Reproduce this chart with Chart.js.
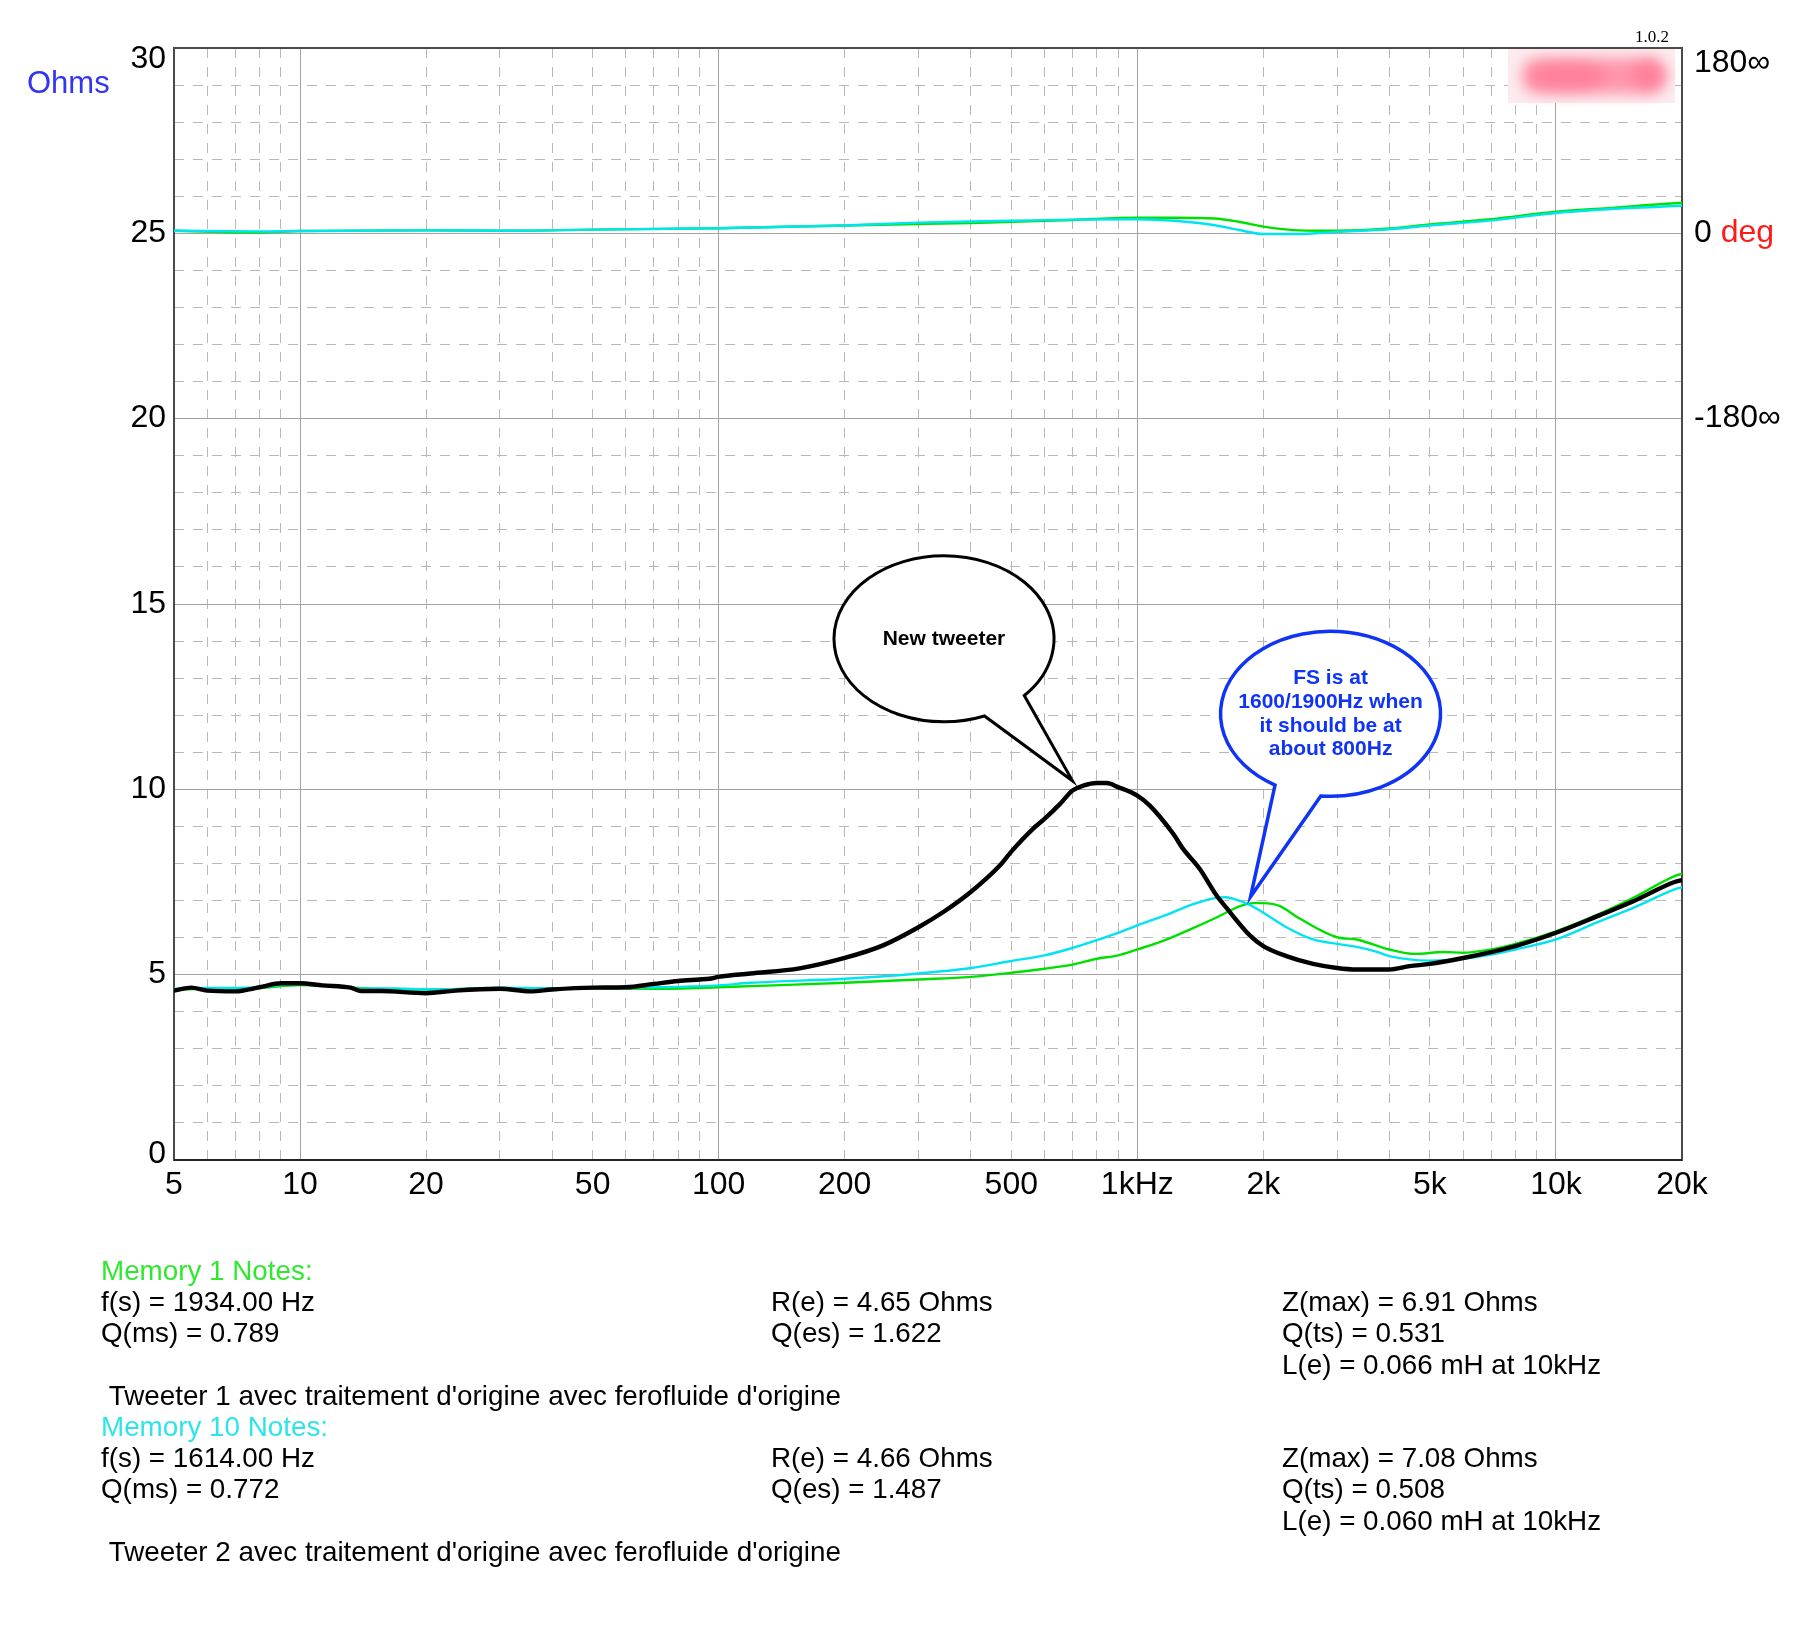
<!DOCTYPE html>
<html>
<head>
<meta charset="utf-8">
<script src="https://cdn.jsdelivr.net/npm/chart.js@4.4.0/dist/chart.umd.min.js"></script>
<style>
  body { margin: 0; background: #fff; }
  canvas { display: block; }
</style>
</head>
<body>
<canvas id="impedanceChart" width="1800" height="1645"></canvas>
<script>
// axis ticks
const xTickValues = [5, 10, 20, 50, 100, 200, 500, 1000, 2000, 5000, 10000, 20000];
const xTickLabels = ["5", "10", "20", "50", "100", "200", "500", "1kHz", "2k", "5k", "10k", "20k"];
const phaseTickValues = [180, 0, -180];
const phaseTickLabels = ["180∞", "0", "-180∞"];

// new tweeter, impedance (Ohms)
const newTweeterHz = [5, 5.5, 6, 7, 8, 9, 10, 11.3, 13.2, 14, 15.6, 20, 23.5, 30, 35.5, 40, 50, 60, 70, 80, 90, 95,
  100, 119, 156, 200, 247, 300, 344, 400, 470, 500, 564, 600, 653, 700, 743, 800, 844, 900, 1000, 1071, 1218, 1285,
  1410, 1545, 1633, 1857, 2000, 2270, 2630, 3000, 3340, 4000, 4470, 5000, 6000, 7000, 8000, 10000, 12700, 15300, 19200, 20000];
const newTweeterOhms = [4.57, 4.65, 4.57, 4.55, 4.66, 4.77, 4.77, 4.71, 4.65, 4.56, 4.56, 4.50, 4.57, 4.62, 4.55, 4.60, 4.65, 4.66, 4.75, 4.83, 4.87, 4.89,
  4.94, 5.03, 5.17, 5.45, 5.79, 6.28, 6.69, 7.23, 7.95, 8.32, 8.94, 9.20, 9.60, 9.97, 10.10, 10.17, 10.17, 10.06, 9.83, 9.56, 8.80, 8.40,
  7.85, 7.14, 6.80, 6.06, 5.77, 5.50, 5.29, 5.18, 5.14, 5.14, 5.23, 5.29, 5.45, 5.61, 5.77, 6.13, 6.60, 6.98, 7.50, 7.55];

// memory 1 (green), impedance
const mem1Hz = [5, 6, 8, 10, 12, 15, 20, 30, 50, 70, 100, 119, 200, 300, 400, 500, 600, 700, 800, 900, 1000, 1165, 1350,
  1550, 1760, 1890, 2000, 2190, 2430, 3000, 3340, 4000, 4600, 5400, 6000, 7000, 8000, 10000, 12700, 15300, 19200, 20000];
const mem1Ohms = [4.60, 4.62, 4.64, 4.72, 4.68, 4.62, 4.60, 4.63, 4.63, 4.62, 4.66, 4.69, 4.78, 4.87, 4.94, 5.05, 5.16, 5.27, 5.43, 5.52, 5.68, 5.93, 6.24,
  6.55, 6.85, 6.93, 6.93, 6.85, 6.53, 6.01, 5.95, 5.68, 5.56, 5.61, 5.59, 5.68, 5.83, 6.17, 6.64, 7.07, 7.66, 7.72];

// memory 10 (cyan), impedance
const mem10Hz = [5, 6, 7, 8, 9, 10, 12, 14, 17, 20, 25, 30, 40, 50, 60, 70, 80, 100, 119, 200, 300, 400, 500, 600, 700,
  800, 900, 1000, 1165, 1350, 1545, 1620, 1690, 1850, 2000, 2270, 2630, 3000, 3340, 3700, 4000, 5000, 6000, 7000, 8000,
  10000, 12700, 15300, 19200, 20000];
const mem10Ohms = [4.62, 4.64, 4.64, 4.66, 4.72, 4.75, 4.70, 4.62, 4.63, 4.60, 4.62, 4.65, 4.63, 4.64, 4.65, 4.66, 4.67, 4.71, 4.78, 4.89, 5.03, 5.18, 5.37, 5.52, 5.72,
  5.93, 6.13, 6.33, 6.60, 6.89, 7.07, 7.09, 7.05, 6.89, 6.67, 6.28, 5.95, 5.83, 5.75, 5.63, 5.50, 5.38, 5.43, 5.54, 5.68,
  5.95, 6.44, 6.80, 7.30, 7.36];

// phase (deg) of memory 1 and memory 10
const phaseHz = [5, 8, 10, 20, 30, 50, 100, 200, 300, 400, 500, 700, 1000, 1230, 1530, 1750, 2000, 2420, 3000, 4000, 5000, 7000, 10000, 13300, 19200, 20000];
const mem1PhaseDeg = [2.5, 0.7, 2.2, 2.9, 2.5, 3.6, 5.0, 7.6, 9.0, 10.1, 11.2, 13.0, 15.1, 15.1, 14.4, 11.2, 6.5, 2.9, 2.5, 4.7, 8.6, 13.7, 20.9, 24.5, 29.2, 29.5];
const mem10PhaseDeg = [2.5, 1.8, 2.2, 2.9, 2.5, 3.6, 5.0, 7.6, 10.4, 11.5, 12.2, 13.3, 13.7, 12.2, 7.9, 3.2, -0.7, -0.7, 1.4, 4.0, 7.6, 12.6, 19.8, 23.4, 26.6, 27.0];

// notes under the graph
const mem1Notes = ["f(s) = 1934.00 Hz", "R(e) = 4.65 Ohms", "Z(max) = 6.91 Ohms", "Q(ms) = 0.789", "Q(es) = 1.622", "Q(ts) = 0.531", "L(e) = 0.066 mH at 10kHz"];
const mem10Notes = ["f(s) = 1614.00 Hz", "R(e) = 4.66 Ohms", "Z(max) = 7.08 Ohms", "Q(ms) = 0.772", "Q(es) = 1.487", "Q(ts) = 0.508", "L(e) = 0.060 mH at 10kHz"];
const mem1Desc = " Tweeter 1 avec traitement d'origine avec ferofluide d'origine";
const mem10Desc = " Tweeter 2 avec traitement d'origine avec ferofluide d'origine";

const FONT = "'Liberation Sans', Arial, Helvetica, sans-serif";
const GREEN = "#00e000";
const CYAN = "#00e4f0";
const BLUE = "#1034f5";

function toPoints(xs, ys) {
    return xs.map((x, i) => ({ x: x, y: ys[i] }));
}

// 1..9 per decade grid, 5 Hz .. 20 kHz
const gridHz = [];
[1, 10, 100, 1000, 10000].forEach(function (d) {
    for (let m = 1; m <= 9; m++) {
        const v = m * d;
        if (v >= 5 && v <= 20000) gridHz.push(v);
    }
});
const decadeHz = [10, 100, 1000, 10000];

const MINOR = "#b8b8b8";
const MAJOR = "#a2a2a2";
const DASH = [10, 9];

// end labels sit a little inside the frame (two-line label, blank half)
function edgeLabel(text, pos) {
    return pos === "low" ? ["", text] : [text, ""];
}
function tickFont(lh) {
    return { size: 32, lineHeight: lh };
}

function drawBubble(c, b) {
    const xs = c.scales.x, ys = c.scales.y;
    const tx = xs.getPixelForValue(b.tipHz), ty = ys.getPixelForValue(b.tipOhms);
    const cx = tx + b.dx, cy = ty + b.dy;
    const a1 = b.a1 * Math.PI / 180, a2 = b.a2 * Math.PI / 180;
    const g = c.ctx;
    g.save();
    g.beginPath();
    g.ellipse(cx, cy, b.rx, b.ry, 0, a1, a2, false);
    g.lineTo(tx, ty);
    g.closePath();
    g.fillStyle = "#fff";
    g.fill();
    g.lineWidth = b.width;
    g.lineJoin = "miter";
    g.strokeStyle = b.color;
    g.stroke();
    g.fillStyle = b.color;
    g.font = "bold 21px " + FONT;
    g.textAlign = "center";
    g.textBaseline = "middle";
    const lh = 23.8;
    const y0 = cy - (b.lines.length - 1) * lh / 2;
    b.lines.forEach((t, i) => g.fillText(t, cx, y0 + i * lh));
    g.restore();
}

const decorations = {
    id: "decorations",
    beforeDatasetsDraw(c) {
        const g = c.ctx, a = c.chartArea;
        g.save();
        // blurred logo box
        g.fillStyle = "#fcecef";
        g.fillRect(1508, 49, 167, 54);
        g.filter = "blur(7px)";
        g.fillStyle = "rgba(255,135,160,0.85)";
        g.beginPath();
        g.roundRect(1522, 58, 144, 36, 16);
        g.fill();
        g.fillStyle = "rgba(255,110,140,0.55)";
        g.beginPath();
        g.ellipse(1568, 76, 38, 13, 0, 0, Math.PI * 2);
        g.ellipse(1648, 75, 16, 14, 0, 0, Math.PI * 2);
        g.fill();
        g.filter = "none";
        // plot frame
        g.strokeStyle = "#4a4a4a";
        g.lineWidth = 2;
        g.strokeRect(a.left, a.top, a.right - a.left, a.bottom - a.top);
        g.strokeStyle = "#222";
        g.beginPath();
        g.moveTo(a.left, a.bottom);
        g.lineTo(a.right, a.bottom);
        g.stroke();
        g.restore();
    },
    afterDatasetsDraw(c) {
        drawBubble(c, {
            tipHz: 700, tipOhms: 10.23, dx: -128.5, dy: -142, rx: 110, ry: 83,
            a1: 68.4, a2: 43.1, width: 3, color: "#000", lines: ["New tweeter"]
        });
        drawBubble(c, {
            tipHz: 1864, tipOhms: 7.1, dx: 80, dy: -183, rx: 110, ry: 82.5,
            a1: 120.3, a2: 95.1, width: 3.5, color: BLUE,
            lines: ["FS is at", "1600/1900Hz when", "it should be at", "about 800Hz"]
        });
    },
    afterDraw(c) {
        const g = c.ctx;
        const ph = c.scales.phase;
        g.save();
        g.textBaseline = "middle";
        g.textAlign = "left";
        // unit labels
        g.font = "31px " + FONT;
        g.fillStyle = "#3434f2";
        g.fillText("Ohms", 27, 84);
        g.font = "32px " + FONT;
        const zx = ph.left + ph.options.ticks.padding + g.measureText("0 ").width;
        g.fillStyle = "#ff1a1a";
        g.fillText("deg", zx, ph.getPixelForValue(0));
        // version
        g.textBaseline = "alphabetic";
        g.textAlign = "right";
        g.font = "17px 'Liberation Serif', 'DejaVu Serif', serif";
        g.fillStyle = "#000";
        g.fillText("1.0.2", 1669, 42);
        // notes
        g.textAlign = "left";
        g.font = "27.8px " + FONT;
        const cols = [101, 771, 1282];
        const lh = 31.2;
        const blocks = [
            { y: 1280, title: "Memory 1 Notes:", color: "#2fe82f", notes: mem1Notes, desc: mem1Desc },
            { y: 1280 + lh * 5, title: "Memory 10 Notes:", color: "#2fe4e8", notes: mem10Notes, desc: mem10Desc }
        ];
        blocks.forEach(function (b) {
            g.fillStyle = b.color;
            g.fillText(b.title, cols[0], b.y);
            g.fillStyle = "#000";
            for (let i = 0; i < 6; i++) {
                g.fillText(b.notes[i], cols[i % 3], b.y + lh * (1 + Math.floor(i / 3)));
            }
            g.fillText(b.notes[6], cols[2], b.y + lh * 3);
            g.fillText(b.desc, cols[0], b.y + lh * 4);
        });
        g.restore();
    }
};

Chart.defaults.font.family = FONT;
Chart.defaults.color = "#000";

const ctx = document.getElementById("impedanceChart").getContext("2d");

new Chart(ctx, {
    type: "line",
    data: {
        datasets: [
            {
                label: "New tweeter",
                data: toPoints(newTweeterHz, newTweeterOhms),
                borderColor: "#000",
                borderWidth: 4.4,
                yAxisID: "y",
            },
            {
                label: "Memory 10",
                data: toPoints(mem10Hz, mem10Ohms),
                borderColor: CYAN,
                borderWidth: 2.4,
                yAxisID: "y",
            },
            {
                label: "Memory 1",
                data: toPoints(mem1Hz, mem1Ohms),
                borderColor: GREEN,
                borderWidth: 2.4,
                yAxisID: "y",
            },
            {
                label: "Memory 10 phase",
                data: toPoints(phaseHz, mem10PhaseDeg),
                borderColor: CYAN,
                borderWidth: 2.4,
                yAxisID: "phase",
            },
            {
                label: "Memory 1 phase",
                data: toPoints(phaseHz, mem1PhaseDeg),
                borderColor: GREEN,
                borderWidth: 2.4,
                yAxisID: "phase",
            },
        ],
    },
    options: {
        responsive: false,
        animation: false,
        layout: { padding: { top: 48, left: 0, right: 0, bottom: 0 } },
        elements: {
            point: { radius: 0 },
            line: { cubicInterpolationMode: "monotone", fill: false, borderCapStyle: "round", borderJoinStyle: "round" },
        },
        plugins: { legend: { display: false }, tooltip: { enabled: false } },
        scales: {
            x: {
                type: "logarithmic",
                position: "bottom",
                min: 5,
                max: 20000,
                afterBuildTicks: s => { s.ticks = gridHz.map(v => ({ value: v })); },
                afterFit: s => { s.height = 485; },
                ticks: {
                    autoSkip: false,
                    maxRotation: 0,
                    padding: 6,
                    font: { size: 32 },
                    callback: v => {
                        const i = xTickValues.indexOf(v);
                        return i >= 0 ? xTickLabels[i] : "";
                    },
                },
                grid: {
                    drawTicks: false,
                    color: c => (decadeHz.includes(c.tick.value) || c.tick.value === 5 || c.tick.value === 20000) ? "transparent" : MINOR,
                },
                border: { display: false, dash: DASH },
            },
            xMajor: {
                type: "logarithmic",
                position: "bottom",
                min: 5,
                max: 20000,
                afterBuildTicks: s => { s.ticks = decadeHz.map(v => ({ value: v })); },
                afterFit: s => { s.height = 0; },
                ticks: { display: false },
                grid: { drawTicks: false, color: MAJOR },
                border: { display: false },
            },
            y: {
                type: "linear",
                position: "left",
                min: 0,
                max: 30,
                afterFit: s => { s.width = 174; },
                ticks: {
                    stepSize: 1,
                    autoSkip: false,
                    padding: 8,
                    font: c => {
                        const v = c.tick ? c.tick.value : null;
                        return tickFont(v === 30 ? 0.72 : v === 0 ? 0.38 : 1.2);
                    },
                    callback: v => {
                        if (v === 30) return edgeLabel("30", "low");
                        if (v === 0) return edgeLabel("0", "high");
                        return v % 5 === 0 ? String(v) : "";
                    },
                },
                grid: {
                    drawTicks: false,
                    color: c => (c.tick.value % 5 === 0 ? "transparent" : MINOR),
                },
                border: { display: false, dash: DASH },
            },
            yMajor: {
                type: "linear",
                position: "left",
                min: 0,
                max: 30,
                afterFit: s => { s.width = 0; },
                ticks: { display: false, stepSize: 5 },
                grid: {
                    drawTicks: false,
                    color: c => (c.tick.value === 0 || c.tick.value === 30 ? "transparent" : MAJOR),
                },
                border: { display: false },
            },
            phase: {
                type: "linear",
                position: "right",
                min: -900,
                max: 180,
                afterBuildTicks: s => { s.ticks = phaseTickValues.map(v => ({ value: v })); },
                afterFit: s => { s.width = 118; },
                ticks: {
                    autoSkip: false,
                    padding: 12,
                    font: c => tickFont(c.tick && c.tick.value === 180 ? 0.94 : 1.2),
                    callback: v => {
                        const label = phaseTickLabels[phaseTickValues.indexOf(v)];
                        return v === 180 ? edgeLabel(label, "low") : label;
                    },
                },
                grid: { display: false, drawTicks: false },
                border: { display: false },
            },
        },
    },
    plugins: [decorations],
});
</script>
</body>
</html>
